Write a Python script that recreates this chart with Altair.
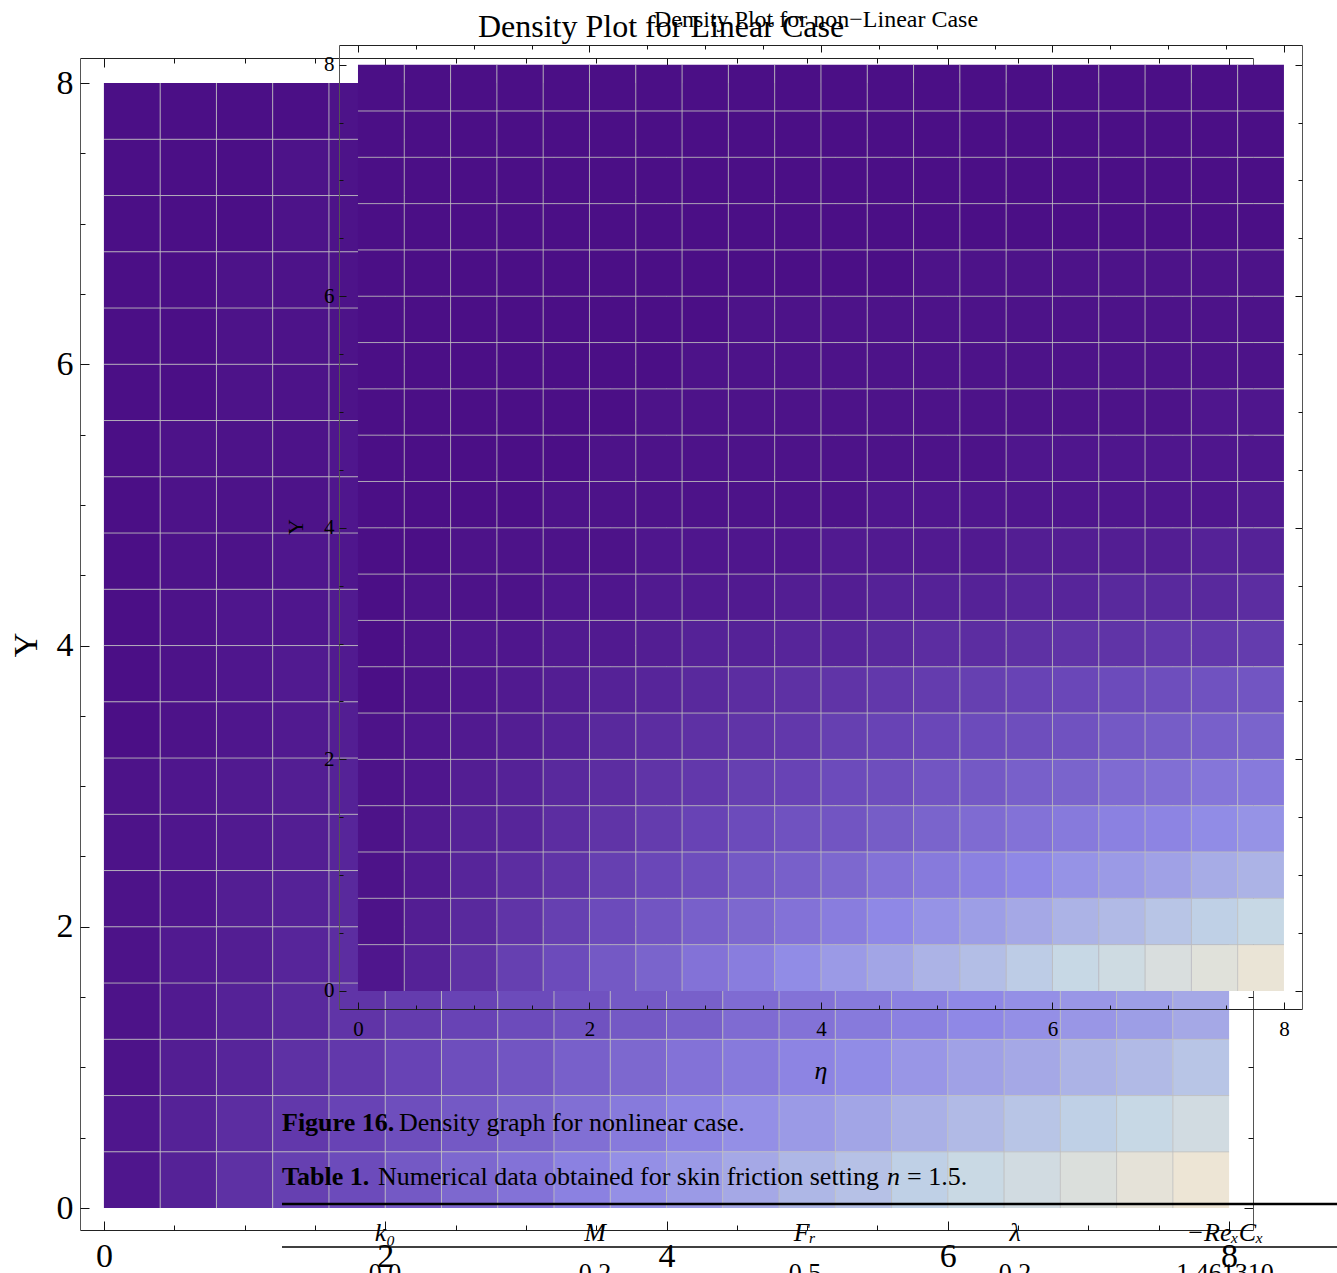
import altair as alt
import pandas as pd

WIDTH, HEIGHT = 1337, 1273

# Cell edges of the 20 x 20 sampling grid shared by both density panels
EDGES = [0.0, 0.4, 0.8, 1.2, 1.6, 2.0, 2.4, 2.8, 3.2, 3.6, 4.0,
         4.4, 4.8, 5.2, 5.6, 6.0, 6.4, 6.8, 7.2, 7.6, 8.0]
MAJOR_TICKS = [0, 2, 4, 6, 8]
MINOR_TICKS = [0.5, 1, 1.5, 2.5, 3, 3.5, 4.5, 5, 5.5, 6.5, 7, 7.5]

# Density levels; one row per Y cell (Y = 0 upward), one value per eta cell
LINEAR_DENSITY = [
    [0.2, 0.5, 0.9, 1.3, 1.6, 2.0, 2.4, 2.7, 3.1, 3.5, 3.8, 4.2, 4.6, 4.9, 5.3, 5.7, 6.0, 6.4, 6.8, 7.1],
    [0.2, 0.5, 0.8, 1.1, 1.4, 1.7, 2.0, 2.3, 2.6, 2.9, 3.2, 3.5, 3.8, 4.1, 4.4, 4.7, 5.0, 5.3, 5.6, 6.0],
    [0.1, 0.4, 0.6, 0.9, 1.1, 1.4, 1.7, 1.9, 2.2, 2.4, 2.7, 2.9, 3.2, 3.4, 3.7, 4.0, 4.2, 4.5, 4.7, 5.0],
    [0.1, 0.3, 0.5, 0.7, 1.0, 1.2, 1.4, 1.6, 1.8, 2.0, 2.2, 2.5, 2.7, 2.9, 3.1, 3.3, 3.5, 3.7, 3.9, 4.2],
    [0.1, 0.3, 0.4, 0.6, 0.8, 1.0, 1.2, 1.3, 1.5, 1.7, 1.9, 2.0, 2.2, 2.4, 2.6, 2.8, 2.9, 3.1, 3.3, 3.5],
    [0.1, 0.2, 0.4, 0.5, 0.7, 0.8, 1.0, 1.1, 1.3, 1.4, 1.6, 1.7, 1.9, 2.0, 2.2, 2.3, 2.5, 2.6, 2.8, 2.9],
    [0.1, 0.2, 0.3, 0.4, 0.6, 0.7, 0.8, 0.9, 1.1, 1.2, 1.3, 1.4, 1.6, 1.7, 1.8, 1.9, 2.0, 2.2, 2.3, 2.4],
    [0.1, 0.2, 0.3, 0.4, 0.5, 0.6, 0.7, 0.8, 0.9, 1.0, 1.1, 1.2, 1.3, 1.4, 1.5, 1.6, 1.7, 1.8, 1.9, 2.0],
    [0.0, 0.1, 0.2, 0.3, 0.4, 0.5, 0.6, 0.7, 0.7, 0.8, 0.9, 1.0, 1.1, 1.2, 1.3, 1.3, 1.4, 1.5, 1.6, 1.7],
    [0.0, 0.1, 0.2, 0.3, 0.3, 0.4, 0.5, 0.5, 0.6, 0.7, 0.8, 0.8, 0.9, 1.0, 1.0, 1.1, 1.2, 1.3, 1.3, 1.4],
    [0.0, 0.1, 0.2, 0.2, 0.3, 0.3, 0.4, 0.5, 0.5, 0.6, 0.6, 0.7, 0.8, 0.8, 0.9, 0.9, 1.0, 1.1, 1.1, 1.2],
    [0.0, 0.1, 0.1, 0.2, 0.2, 0.3, 0.3, 0.4, 0.4, 0.5, 0.5, 0.6, 0.6, 0.7, 0.7, 0.8, 0.8, 0.9, 0.9, 1.0],
    [0.0, 0.1, 0.1, 0.1, 0.2, 0.2, 0.3, 0.3, 0.4, 0.4, 0.4, 0.5, 0.5, 0.6, 0.6, 0.7, 0.7, 0.7, 0.8, 0.8],
    [0.0, 0.1, 0.1, 0.1, 0.2, 0.2, 0.2, 0.3, 0.3, 0.3, 0.4, 0.4, 0.4, 0.5, 0.5, 0.5, 0.6, 0.6, 0.7, 0.7],
    [0.0, 0.0, 0.1, 0.1, 0.1, 0.2, 0.2, 0.2, 0.3, 0.3, 0.3, 0.3, 0.4, 0.4, 0.4, 0.5, 0.5, 0.5, 0.5, 0.6],
    [0.0, 0.0, 0.1, 0.1, 0.1, 0.1, 0.2, 0.2, 0.2, 0.2, 0.3, 0.3, 0.3, 0.3, 0.4, 0.4, 0.4, 0.4, 0.5, 0.5],
    [0.0, 0.0, 0.1, 0.1, 0.1, 0.1, 0.1, 0.2, 0.2, 0.2, 0.2, 0.2, 0.3, 0.3, 0.3, 0.3, 0.3, 0.4, 0.4, 0.4],
    [0.0, 0.0, 0.0, 0.1, 0.1, 0.1, 0.1, 0.1, 0.1, 0.2, 0.2, 0.2, 0.2, 0.2, 0.3, 0.3, 0.3, 0.3, 0.3, 0.3],
    [0.0, 0.0, 0.0, 0.1, 0.1, 0.1, 0.1, 0.1, 0.1, 0.1, 0.2, 0.2, 0.2, 0.2, 0.2, 0.2, 0.2, 0.3, 0.3, 0.3],
    [0.0, 0.0, 0.0, 0.0, 0.1, 0.1, 0.1, 0.1, 0.1, 0.1, 0.1, 0.1, 0.2, 0.2, 0.2, 0.2, 0.2, 0.2, 0.2, 0.2],
]

NONLINEAR_DENSITY = [
    [0.2, 0.5, 0.9, 1.3, 1.6, 2.0, 2.3, 2.7, 3.0, 3.4, 3.8, 4.1, 4.5, 4.8, 5.2, 5.6, 5.9, 6.3, 6.6, 7.0],
    [0.1, 0.4, 0.7, 1.0, 1.3, 1.6, 1.9, 2.2, 2.4, 2.7, 3.0, 3.3, 3.6, 3.9, 4.2, 4.5, 4.7, 5.0, 5.3, 5.6],
    [0.1, 0.3, 0.6, 0.8, 1.0, 1.3, 1.5, 1.7, 2.0, 2.2, 2.4, 2.7, 2.9, 3.1, 3.3, 3.6, 3.8, 4.0, 4.3, 4.5],
    [0.1, 0.3, 0.5, 0.6, 0.8, 1.0, 1.2, 1.4, 1.6, 1.8, 1.9, 2.1, 2.3, 2.5, 2.7, 2.9, 3.1, 3.2, 3.4, 3.6],
    [0.1, 0.2, 0.4, 0.5, 0.7, 0.8, 1.0, 1.1, 1.3, 1.4, 1.6, 1.7, 1.9, 2.0, 2.2, 2.3, 2.5, 2.6, 2.8, 2.9],
    [0.1, 0.2, 0.3, 0.4, 0.5, 0.7, 0.8, 0.9, 1.0, 1.1, 1.3, 1.4, 1.5, 1.6, 1.7, 1.8, 2.0, 2.1, 2.2, 2.3],
    [0.0, 0.1, 0.2, 0.3, 0.4, 0.5, 0.6, 0.7, 0.8, 0.9, 1.0, 1.1, 1.2, 1.3, 1.4, 1.5, 1.6, 1.7, 1.8, 1.9],
    [0.0, 0.1, 0.2, 0.2, 0.3, 0.3, 0.4, 0.5, 0.5, 0.6, 0.6, 0.7, 0.8, 0.8, 0.9, 1.0, 1.0, 1.1, 1.1, 1.2],
    [0.0, 0.1, 0.1, 0.1, 0.2, 0.2, 0.3, 0.3, 0.3, 0.4, 0.4, 0.5, 0.5, 0.5, 0.6, 0.6, 0.7, 0.7, 0.7, 0.8],
    [0.0, 0.0, 0.1, 0.1, 0.1, 0.1, 0.2, 0.2, 0.2, 0.2, 0.3, 0.3, 0.3, 0.3, 0.4, 0.4, 0.4, 0.4, 0.5, 0.5],
    [0.0, 0.0, 0.0, 0.0, 0.1, 0.1, 0.1, 0.1, 0.1, 0.1, 0.1, 0.2, 0.2, 0.2, 0.2, 0.2, 0.2, 0.2, 0.2, 0.3],
    [0.0, 0.0, 0.0, 0.0, 0.0, 0.1, 0.1, 0.1, 0.1, 0.1, 0.1, 0.1, 0.1, 0.1, 0.2, 0.2, 0.2, 0.2, 0.2, 0.2],
    [0.0, 0.0, 0.0, 0.0, 0.0, 0.0, 0.1, 0.1, 0.1, 0.1, 0.1, 0.1, 0.1, 0.1, 0.1, 0.1, 0.1, 0.1, 0.2, 0.2],
    [0.0, 0.0, 0.0, 0.0, 0.0, 0.0, 0.0, 0.1, 0.1, 0.1, 0.1, 0.1, 0.1, 0.1, 0.1, 0.1, 0.1, 0.1, 0.1, 0.1],
    [0.0, 0.0, 0.0, 0.0, 0.0, 0.0, 0.0, 0.0, 0.1, 0.1, 0.1, 0.1, 0.1, 0.1, 0.1, 0.1, 0.1, 0.1, 0.1, 0.1],
    [0.0, 0.0, 0.0, 0.0, 0.0, 0.0, 0.0, 0.0, 0.0, 0.0, 0.0, 0.0, 0.1, 0.1, 0.1, 0.1, 0.1, 0.1, 0.1, 0.1],
    [0.0, 0.0, 0.0, 0.0, 0.0, 0.0, 0.0, 0.0, 0.0, 0.0, 0.0, 0.0, 0.0, 0.0, 0.0, 0.0, 0.0, 0.0, 0.0, 0.0],
    [0.0, 0.0, 0.0, 0.0, 0.0, 0.0, 0.0, 0.0, 0.0, 0.0, 0.0, 0.0, 0.0, 0.0, 0.0, 0.0, 0.0, 0.0, 0.0, 0.0],
    [0.0, 0.0, 0.0, 0.0, 0.0, 0.0, 0.0, 0.0, 0.0, 0.0, 0.0, 0.0, 0.0, 0.0, 0.0, 0.0, 0.0, 0.0, 0.0, 0.0],
    [0.0, 0.0, 0.0, 0.0, 0.0, 0.0, 0.0, 0.0, 0.0, 0.0, 0.0, 0.0, 0.0, 0.0, 0.0, 0.0, 0.0, 0.0, 0.0, 0.0],
]

# Lake-style colour ramp
LAKE_LEVELS = [0.0, 1.5, 3.3, 5.5, 7.1]
LAKE_COLORS = ["#4B0F86", "#6A47B8", "#8F88E6", "#C4D7E6", "#EDE5D5"]

LINEAR_TITLE = "Density Plot for Linear Case"
NONLINEAR_TITLE = "Density Plot for non\u2212Linear Case"
Y_TITLE = "Y"
ETA_TITLE = "\u03b7"

FIGURE_LABEL = "Figure 16."
FIGURE_TEXT = "Density graph for nonlinear case."
TABLE_LABEL = "Table 1."
TABLE_TEXT = "Numerical data obtained for skin friction setting"
TABLE_VAR = "n"
TABLE_EQ = "= 1.5."

TABLE_HEADERS = ["k\u2080", "M", "F\u1d63", "\u03bb", "\u2212Re\u2093C\u2093"]
TABLE_VALUES = ["0.0", "0.2", "0.5", "0.2", "1.461310"]

SERIF = "Liberation Serif"
GRID_COLOR = "#BDBDBD"


def cell_frame(table):
    rows = []
    for j, row in enumerate(table):
        for i, v in enumerate(row):
            rows.append({"x0": EDGES[i], "x1": EDGES[i + 1],
                         "y0": EDGES[j], "y1": EDGES[j + 1], "v": v})
    return pd.DataFrame(rows)


GRID_DF = pd.DataFrame({"g": EDGES[1:-1], "lo": EDGES[0], "hi": EDGES[-1]})

color_scale = alt.Scale(domain=LAKE_LEVELS, range=LAKE_COLORS, interpolate="rgb")


def make_axis(orient, offset, values=None, labels=False, domain=False, tick=0,
              font_size=20, pad=8, z=0, domain_color="#222222"):
    kw = dict(orient=orient, offset=offset, grid=False, title=None,
              labels=labels, domain=domain, zindex=z)
    if values is not None:
        kw["values"] = values
    if tick:
        kw.update(ticks=True, tickSize=tick, tickColor="#111111", tickWidth=1)
    else:
        kw.update(ticks=False, tickSize=0)
    if labels:
        kw.update(labelFont=SERIF, labelFontSize=font_size, labelPadding=pad,
                  labelColor="#000000", format="d", labelFlush=False,
                  labelOverlap=False)
    if domain:
        kw.update(domainColor=domain_color, domainWidth=1)
    return alt.Axis(**kw)


def density_panel(table, x_dom, x_rng, y_dom, y_rng, font_size, major_len,
                  minor_len, pad_x, pad_y, z):
    left, right = x_rng
    bottom, top = y_rng
    sx = alt.Scale(domain=x_dom, range=x_rng, nice=False, zero=False)
    sy = alt.Scale(domain=y_dom, range=y_rng, nice=False, zero=False)

    rects = alt.Chart(cell_frame(table)).mark_rect().encode(
        x=alt.X("x0:Q", scale=sx,
                axis=make_axis("bottom", bottom - HEIGHT, MAJOR_TICKS, labels=True,
                               domain=True, font_size=font_size, pad=pad_x, z=z)),
        x2="x1:Q",
        y=alt.Y("y0:Q", scale=sy,
                axis=make_axis("left", -left, MAJOR_TICKS, labels=True, domain=True,
                               font_size=font_size, pad=pad_y, z=z,
                               domain_color="#555555")),
        y2="y1:Q",
        color=alt.Color("v:Q", scale=color_scale, legend=None),
    )

    vgrid = alt.Chart(GRID_DF).mark_rule(color=GRID_COLOR, strokeWidth=1, opacity=0.85).encode(
        x=alt.X("g:Q", scale=sx, axis=make_axis("top", -bottom, MAJOR_TICKS, tick=major_len, z=z)),
        y=alt.Y("lo:Q", scale=sy, axis=make_axis("right", left - WIDTH, MAJOR_TICKS, tick=major_len, z=z)),
        y2="hi:Q",
    )

    hgrid = alt.Chart(GRID_DF).mark_rule(color=GRID_COLOR, strokeWidth=1, opacity=0.85).encode(
        y=alt.Y("g:Q", scale=sy, axis=make_axis("right", left - WIDTH, MINOR_TICKS, tick=minor_len, z=z)),
        x=alt.X("lo:Q", scale=sx, axis=make_axis("top", -bottom, MINOR_TICKS, tick=minor_len, z=z)),
        x2="hi:Q",
    )

    # top and right frame edges with their inward ticks
    frame_major = alt.Chart(GRID_DF).mark_rule(opacity=0).encode(
        x=alt.X("g:Q", scale=sx,
                axis=make_axis("bottom", top - HEIGHT, MAJOR_TICKS, domain=True, tick=major_len, z=z)),
        y=alt.Y("lo:Q", scale=sy,
                axis=make_axis("left", -right, MAJOR_TICKS, domain=True, tick=major_len, z=z,
                               domain_color="#555555")),
        y2="hi:Q",
    )
    frame_minor = alt.Chart(GRID_DF).mark_rule(opacity=0).encode(
        x=alt.X("g:Q", scale=sx,
                axis=make_axis("bottom", top - HEIGHT, MINOR_TICKS, tick=minor_len, z=z)),
        y=alt.Y("lo:Q", scale=sy,
                axis=make_axis("left", -right, MINOR_TICKS, tick=minor_len, z=z)),
        y2="hi:Q",
    )
    return [rects, vgrid, hgrid, frame_major, frame_minor]


def label(text, x, y, size, **style):
    return alt.Chart(pd.DataFrame({"t": [text]})).mark_text(
        font=SERIF, fontSize=size, color="#000000", **style
    ).encode(x=alt.value(x), y=alt.value(y), text="t:N")


layers = []

# Linear case (larger, underneath)
layers += density_panel(LINEAR_DENSITY, [-0.17, 8.17], [80, 1253], [-0.156, 8.178], [1230, 58],
                        font_size=34, major_len=9, minor_len=5, pad_x=9, pad_y=7, z=0)
layers.append(label(LINEAR_TITLE, 661, 27, 32, align="center"))
layers.append(label(Y_TITLE, 27, 645, 34, align="center", baseline="middle", angle=270))

# Non-linear case (overlaid)
layers += density_panel(NONLINEAR_DENSITY, [-0.164, 8.156], [339, 1302], [-0.156, 8.17], [1009, 45],
                        font_size=21, major_len=7, minor_len=4, pad_x=9, pad_y=5, z=1)
layers.append(label(NONLINEAR_TITLE, 816, 20, 24, align="center"))
layers.append(label(Y_TITLE, 296, 527, 22, align="center", baseline="middle", angle=270))
layers.append(label(ETA_TITLE, 821, 1071, 26, align="center", baseline="middle", fontStyle="italic"))

# Caption lines
layers.append(label(FIGURE_LABEL, 282, 1123, 26, align="left", fontWeight="bold"))
layers.append(label(FIGURE_TEXT, 399, 1123, 26, align="left"))
layers.append(label(TABLE_LABEL, 282, 1177, 26, align="left", fontWeight="bold"))
layers.append(label(TABLE_TEXT, 378, 1177, 26, align="left"))
layers.append(label(TABLE_VAR, 887, 1177, 26, align="left", fontStyle="italic"))
layers.append(label(TABLE_EQ, 907, 1177, 26, align="left"))

# Table rules
one_row = pd.DataFrame({"k": [0]})
layers.append(alt.Chart(one_row).mark_rule(color="#000000", strokeWidth=2.5).encode(
    x=alt.value(282), x2=alt.value(WIDTH), y=alt.value(1204)))
layers.append(alt.Chart(one_row).mark_rule(color="#000000", strokeWidth=1.5).encode(
    x=alt.value(282), x2=alt.value(WIDTH), y=alt.value(1247)))

# Table header and first data row
table_df = pd.DataFrame({"col": TABLE_HEADERS, "head": TABLE_HEADERS, "val": TABLE_VALUES})
col_scale = alt.Scale(domain=TABLE_HEADERS, range=[385, 1225], padding=0)
layers.append(alt.Chart(table_df).mark_text(
    font=SERIF, fontSize=26, fontStyle="italic", color="#000000", align="center"
).encode(x=alt.X("col:N", scale=col_scale, axis=None), y=alt.value(1233), text="head:N"))
layers.append(alt.Chart(table_df).mark_text(
    font=SERIF, fontSize=26, color="#000000", align="center"
).encode(x=alt.X("col:N", scale=col_scale, axis=None), y=alt.value(1273), text="val:N"))

chart = alt.layer(*layers).resolve_scale(
    x="independent", y="independent"
).properties(
    width=WIDTH, height=HEIGHT,
    autosize=alt.AutoSizeParams(type="none"),
    padding=0,
    background="white",
).configure_view(stroke=None)

chart.save("out.html", embed_options={"renderer": "svg", "actions": False})
